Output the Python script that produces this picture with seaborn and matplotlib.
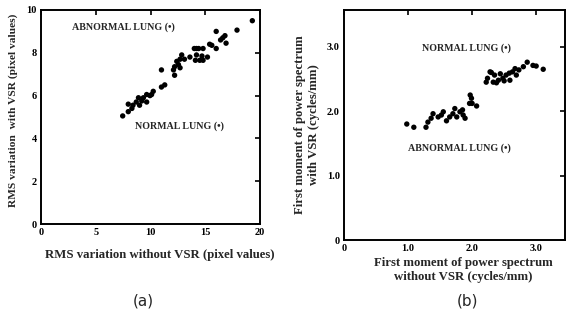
import matplotlib
matplotlib.use("Agg")
import matplotlib.pyplot as plt
import seaborn as sns
import pandas as pd

# Panel (a): RMS variation
a_x = [7.46, 7.97, 7.97, 8.3, 8.4, 8.7, 8.9, 9.0, 9.2, 9.35, 9.65, 9.65, 9.95,
       10.1, 10.25, 11.0, 11.3, 11.0, 12.2, 12.1, 12.2, 12.4, 12.55, 12.7, 12.7,
       12.85, 13.1, 13.6, 14.0, 14.2, 14.4, 14.8, 14.1, 14.5, 14.8, 14.2, 14.7,
       15.2, 15.4, 15.6, 16.0, 16.0, 16.4, 16.8, 16.6, 16.9, 17.9, 19.3]
a_y = [5.05, 5.25, 5.6, 5.4, 5.55, 5.7, 5.9, 5.55, 5.75, 5.9, 5.7, 6.05, 6.0,
       6.05, 6.2, 6.4, 6.5, 7.2, 6.95, 7.2, 7.35, 7.6, 7.45, 7.3, 7.7,
       7.9, 7.7, 7.8, 8.2, 8.2, 8.2, 8.2, 7.65, 7.65, 7.65, 7.9, 7.85,
       7.8, 8.4, 8.35, 8.2, 9.0, 8.6, 8.8, 8.7, 8.45, 9.06, 9.5]

# Panel (b): first moment of power spectrum
b_x = [0.98, 1.09, 1.28, 1.31, 1.36, 1.39, 1.47, 1.52, 1.55, 1.60, 1.65, 1.70,
       1.73, 1.76, 1.81, 1.86, 1.89, 1.85, 1.96, 1.97, 1.99, 2.07, 2.00,
       2.22, 2.28, 2.33, 2.35, 2.41, 2.44, 2.48, 2.53, 2.58, 2.59, 2.63, 2.67,
       2.69, 2.73, 2.80, 2.86, 2.95, 3.00, 3.11, 2.24, 2.38, 2.30, 2.50]
b_y = [1.80, 1.75, 1.75, 1.83, 1.89, 1.96, 1.91, 1.94, 1.99, 1.85, 1.91, 1.96,
       2.04, 1.91, 1.99, 1.94, 1.89, 2.02, 2.12, 2.25, 2.20, 2.08, 2.12,
       2.45, 2.61, 2.45, 2.56, 2.48, 2.58, 2.51, 2.56, 2.59, 2.48, 2.61, 2.66,
       2.56, 2.64, 2.69, 2.76, 2.71, 2.70, 2.65, 2.51, 2.44, 2.60, 2.47]

a_xticks = [0, 5, 10, 15, 20]
a_yticks = [0, 2, 4, 6, 8, 10]
b_xticks = [0, 1.0, 2.0, 3.0]
b_xticklabels = ["0", "1.0", "2.0", "3.0"]
b_yticks = [0, 1.0, 2.0, 3.0]
b_yticklabels = ["0", "1.0", "2.0", "3.0"]

sns.set_style("white")
plt.rcParams['font.family'] = ['Liberation Serif', 'DejaVu Serif']

W, H = 566, 324
fig = plt.figure(figsize=(W / 100, H / 100), dpi=100)

def box(l, t, r, b):
    return [l / W, 1 - b / H, (r - l) / W, (b - t) / H]

axa = fig.add_axes(box(41, 10, 260, 224))
axb = fig.add_axes(box(344, 10, 565, 240))

da = pd.DataFrame({"x": a_x, "y": a_y})
db = pd.DataFrame({"x": b_x, "y": b_y})
sns.scatterplot(data=da, x="x", y="y", ax=axa, color="black", s=15,
                edgecolor="none", legend=False)
sns.scatterplot(data=db, x="x", y="y", ax=axb, color="black", s=15,
                edgecolor="none", legend=False)

tick_font = dict(fontsize=7.5, fontweight="bold")
lab_font = dict(fontsize=9.2, fontweight="bold")
ann_font = dict(fontsize=7.2, fontweight="bold", va="center")

for ax in (axa, axb):
    for sp in ax.spines.values():
        sp.set_visible(True)
        sp.set_color("black")
        sp.set_linewidth(1.4)
    ax.tick_params(direction="in", length=3.5, width=1.2, top=True, right=True,
                   labeltop=False, labelright=False, pad=3, colors="black")
    ax.set_facecolor("white")

axa.set_xlim(0, 20)
axa.set_ylim(0, 10)
axa.set_xticks(a_xticks)
axa.set_yticks(a_yticks)
axa.set_xticklabels([str(v) for v in a_xticks], **tick_font)
axa.set_yticklabels([str(v) for v in a_yticks], **tick_font)
axa.set_xlabel("RMS variation without VSR (pixel values)", **lab_font)
axa.set_ylabel("RMS variation  with VSR (pixel values)", fontsize=8.2,
               fontweight="bold")
axa.xaxis.set_label_coords(0.54, -0.115)
axa.yaxis.set_label_coords(-0.105, 0.53)
axa.text(2.8, 9.2, "ABNORMAL LUNG (•)", **ann_font)
axa.text(8.6, 4.55, "NORMAL LUNG (•)", **ann_font)

axb.set_xlim(0, 3.45)
axb.set_ylim(0, 3.57)
axb.set_xticks(b_xticks)
axb.set_yticks(b_yticks)
axb.set_xticklabels(b_xticklabels, **tick_font)
axb.set_yticklabels(b_yticklabels, **tick_font)
axb.set_xlabel("First moment of power spectrum\nwithout VSR (cycles/mm)",
               linespacing=1.2, **lab_font)
axb.set_ylabel("First moment of power spectrum\nwith VSR (cycles/mm)",
               linespacing=1.15, **lab_font)
axb.xaxis.set_label_coords(0.54, -0.075)
axb.yaxis.set_label_coords(-0.11, 0.5)
axb.text(1.22, 2.98, "NORMAL LUNG (•)", **ann_font)
axb.text(1.0, 1.42, "ABNORMAL LUNG (•)", **ann_font)

fig.text(143 / W, 1 - 301 / H, "(a)", fontsize=11, family="DejaVu Sans",
         ha="center", va="center")
fig.text(468 / W, 1 - 301 / H, "(b)", fontsize=11, family="DejaVu Sans",
         ha="center", va="center")

fig.savefig("out.png", dpi=100, facecolor="white")
